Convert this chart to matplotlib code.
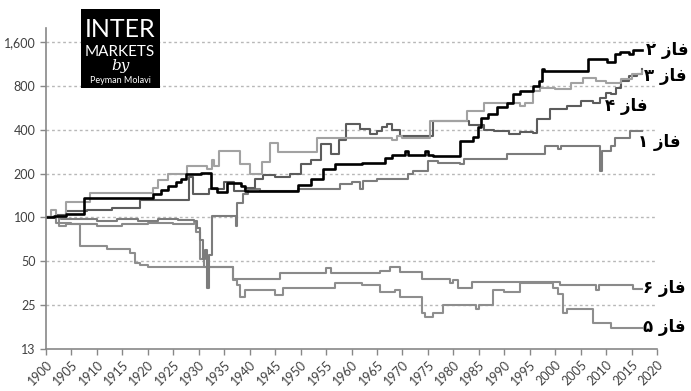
import matplotlib
matplotlib.use("Agg")
import matplotlib.pyplot as plt
from matplotlib.patches import Rectangle

# phase 2 (black)
p2_years = [1900, 1901.5, 1904, 1907.5, 1918.5, 1921, 1922.5, 1924, 1925.5, 1926.5,
            1927.5, 1930.4, 1932.4, 1933.5, 1935.6, 1938.3, 1939, 1949.4, 1952, 1954.4,
            1956.7, 1962, 1966.6, 1968, 1970.5, 1971, 1974.5, 1975, 1976, 1981.3,
            1983.9, 1984.9, 1985.5, 1986.8, 1988.6, 1990.5, 1991.8, 1993.1, 1995.7, 1996.8,
            1997.4, 1997.8, 2006.5, 2010.2, 2011.8, 2012.8, 2014.5, 2015.3, 2017]
p2_vals = [100, 103, 105, 135, 137, 146, 155, 165, 175, 185,
           200, 203, 160, 150, 173, 165, 153, 166, 185, 216,
           234, 237, 258, 270, 285, 270, 285, 270, 265, 336,
           355, 420, 485, 515, 570, 615, 705, 740, 800, 865,
           1040, 1010, 1220, 1160, 1320, 1370, 1330, 1420, 1420]

# phase 3 (light gray)
p3_years = [1900, 1901, 1902, 1904, 1908.6, 1921, 1922, 1924, 1927.7, 1931.6,
            1932.5, 1933, 1934, 1937.5, 1938, 1940, 1942.5, 1944, 1945.5, 1953.3,
            1968, 1969, 1970, 1975.4, 1982.7, 1986, 1993, 1994, 1995.7, 1997,
            2000, 2003, 2005.5, 2008, 2010, 2013, 2015, 2017]
p3_vals = [100, 112, 100, 127, 148, 160, 180, 200, 227, 216,
           250, 225, 287, 287, 234, 200, 240, 326, 280, 352,
           340, 365, 352, 460, 540, 610, 580, 610, 740, 780,
           760, 840, 910, 865, 840, 900, 960, 1010]

# phase 1
p1_years = [1900, 1903, 1906, 1910, 1914, 1918, 1922, 1926, 1929, 1929.6,
            1930.2, 1930.8, 1931.3, 1931.6, 1932, 1932.6, 1937, 1937.3, 1937.6, 1938.7,
            1939.7, 1942, 1949.4, 1957.8, 1960, 1961.7, 1962.3, 1965, 1971, 1972,
            1975, 1977, 1981.3, 1982, 1990.5, 1998, 2000.5, 2001.2, 2008.3, 2008.8,
            2009.2, 2011, 2011.8, 2014.7, 2017]
p1_vals = [100, 98, 97, 95, 97, 95, 97, 96, 95, 85,
           70, 52, 60, 33, 55, 103, 103, 88, 125, 146,
           158, 153, 158, 170, 175, 158, 179, 185, 200, 210,
           245, 238, 232, 253, 274, 310, 295, 310, 310, 210,
           287, 310, 352, 394, 394]

# phase 4 (dark gray)
p4_years = [1900, 1902, 1904, 1908, 1913, 1918.5, 1927.5, 1928, 1928.8, 1932,
            1935, 1937, 1939, 1941, 1942.7, 1945, 1948, 1950, 1952, 1954,
            1956, 1957.5, 1959, 1961.7, 1963.6, 1965, 1966, 1967, 1968, 1969.5,
            1976, 1983, 1986, 1988, 1991, 1993, 1995.7, 1996.5, 1999, 2002.4,
            2005, 2007.5, 2008.8, 2010, 2011, 2012, 2013, 2014.5, 2016, 2017]
p4_vals = [100, 104, 110, 112, 117, 131, 131, 190, 146, 158,
           175, 153, 160, 185, 195, 190, 200, 234, 250, 320,
           274, 338, 440, 405, 375, 394, 420, 440, 400, 363,
           460, 430, 400, 394, 375, 385, 380, 475, 555, 585,
           630, 610, 660, 720, 700, 780, 865, 930, 960, 1050]

# phase 5
p5_years = [1900, 1902.5, 1904, 1906.7, 1912, 1916.5, 1917.5, 1918.5, 1920, 1936.7,
            1937.5, 1938, 1939, 1945, 1946.5, 1956.7, 1962, 1965.6, 1968.5, 1969.5,
            1973.9, 1974.5, 1976, 1978, 1984.5, 1985, 1987.8, 1990, 1993, 1999.6,
            2000.5, 2001.6, 2002.3, 2007.4, 2011, 2017]
p5_vals = [100, 88, 90, 64, 61, 57, 49, 47, 45.5, 37,
           34.3, 28.4, 32, 29.3, 33, 35.4, 34.3, 30.6, 32, 28.4,
           22, 20.7, 22, 25, 23.5, 25, 31.7, 30.6, 35.4, 33,
           30, 22, 23.5, 19, 17.4, 17.4]

# phase 6
p6_years = [1900, 1902, 1905, 1910, 1915, 1920, 1925, 1929, 1929.5, 1930.3,
            1931, 1936.7, 1946, 1955, 1956, 1965.6, 1967.6, 1969.5, 1973.9, 1979.4,
            1980, 1981, 1983.7, 2001, 2008, 2008.5, 2015.3, 2017]
p6_vals = [100, 92, 90, 88, 90, 92, 90, 92, 80, 52,
           45.5, 38, 41.5, 44.8, 41.5, 43, 45.5, 42, 38, 35.4,
           37, 33, 36, 34.3, 32, 34.3, 32.2, 32.2]

y_ticks = [12.5, 25, 50, 100, 200, 400, 800, 1600]
y_labels = ["13", "25", "50", "100", "200", "400", "800", "1,600"]
x_ticks = list(range(1900, 2021, 5))

# "faz" in visual order (presentation forms), digit on the left
faz = "\uFEAF\uFE8E\uFED3"
digits = {"1": "\u06F1", "2": "\u06F2", "3": "\u06F3", "4": "\u06F4", "5": "\u06F5", "6": "\u06F6"}

fig = plt.figure(figsize=(6.91, 3.91), dpi=100)
ax = fig.add_axes([0.0666, 0.1074, 0.8843, 0.8210])

series = [
    (p5_years, p5_vals, "#8e8e8e", 1.5),
    (p6_years, p6_vals, "#8a8a8a", 1.5),
    (p1_years, p1_vals, "#7c7c7c", 1.5),
    (p4_years, p4_vals, "#5c5c5c", 1.5),
    (p3_years, p3_vals, "#a2a2a2", 1.5),
    (p2_years, p2_vals, "#000000", 1.9),
]
for xs, ys, c, lw in series:
    ax.plot(xs, ys, drawstyle="steps-post", color=c, lw=lw)

ax.set_yscale("log", base=2)
ax.set_ylim(12.5, 2000)
ax.set_xlim(1900, 2020)
ax.set_yticks(y_ticks)
ax.set_yticklabels(y_labels)
ax.minorticks_off()
ax.set_xticks(x_ticks)
ax.set_xticklabels([str(x) for x in x_ticks], rotation=45, ha="right",
                   rotation_mode="anchor")
ax.tick_params(axis="both", colors="#888888", labelcolor="#404040",
               labelsize=9, length=4, direction="out", width=1)
ax.tick_params(axis="x", pad=3)
for t in ax.get_xticklabels() + ax.get_yticklabels():
    t.set_family("Lato")

for y in y_ticks[1:]:
    ax.axhline(y, color="#b8b8b8", lw=1, ls=(0, (2, 2)), zorder=0)

for s in ["top", "right"]:
    ax.spines[s].set_visible(False)
for s in ["left", "bottom"]:
    ax.spines[s].set_color("#888888")
    ax.spines[s].set_linewidth(1.2)

# phase labels
lab_kw = dict(fontsize=12, fontweight="bold", family=["DejaVu Sans"],
              va="center", ha="left", clip_on=False, color="black")
ax.text(2017.8, 1410, digits["2"] + " " + faz, **lab_kw)
ax.text(2017.5, 935, digits["3"] + " " + faz, **lab_kw)
ax.text(2009.8, 584, digits["4"] + " " + faz, **lab_kw)
ax.text(2016.2, 330, digits["1"] + " " + faz, **lab_kw)
ax.text(2017.2, 33, digits["6"] + " " + faz, **lab_kw)
ax.text(2017.2, 17.6, digits["5"] + " " + faz, **lab_kw)

# logo
fig.patches.append(Rectangle((0.117, 0.775), 0.114, 0.202, transform=fig.transFigure,
                             facecolor="black", edgecolor="none", zorder=5))
cx = 0.174
fig.text(cx, 0.925, "INTER", color="white", fontsize=18, family="Lato",
         ha="center", va="center", zorder=6)
fig.text(cx, 0.868, "MARKETS", color="white", fontsize=11, family="Lato",
         ha="center", va="center", zorder=6)
fig.text(cx, 0.830, "by", color="white", fontsize=11, family="DejaVu Serif",
         style="italic", ha="center", va="center", zorder=6)
fig.text(cx, 0.795, "Peyman Molavi", color="white", fontsize=6.5, family="Lato",
         ha="center", va="center", zorder=6)

fig.savefig("out.png", dpi=100)
